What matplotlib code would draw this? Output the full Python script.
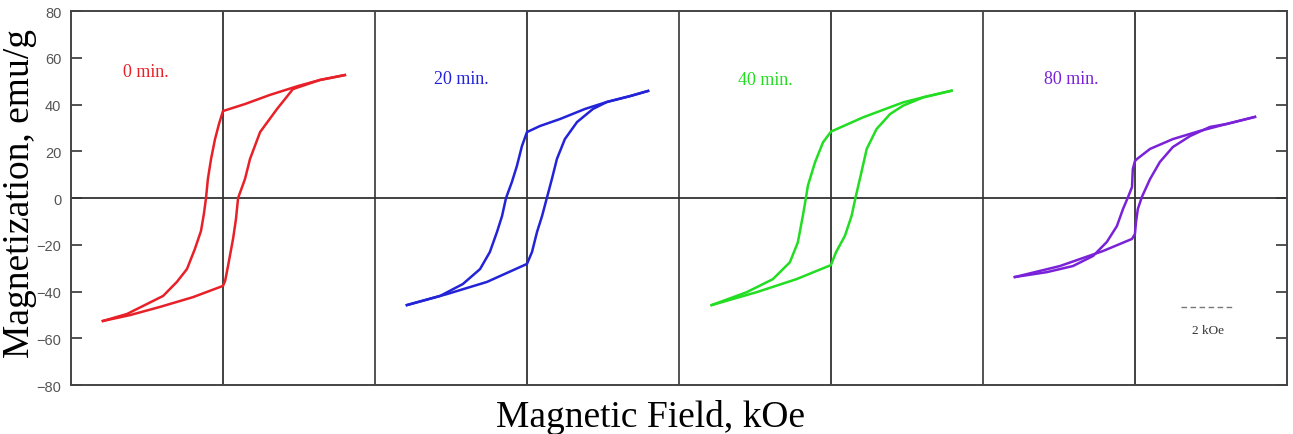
import matplotlib
matplotlib.use("Agg")
import matplotlib.pyplot as plt

# Loop data, field in kOe, magnetization in emu/g
labels = ["0 min.", "20 min.", "40 min.", "80 min."]
colors = ["#e82028", "#2323d8", "#22dd22", "#7a22d8"]

# descending branches (+H -> -H)
desc_H_0 = [4.60, 3.66, 2.83, 1.77, 0.83, 0.00, -0.15, -0.30, -0.45, -0.57, -0.64, -0.72, -0.83, -1.06, -1.36, -1.74, -2.26, -3.02, -3.62, -4.53]
desc_M_0 = [52.6, 50.5, 47.9, 44.1, 40.2, 37.2, 31.7, 25.2, 16.7, 8.1, 0.0, -6.8, -14.1, -21.8, -30.4, -35.9, -41.9, -46.2, -49.6, -52.6]
desc_H_20 = [4.57, 3.89, 3.02, 2.19, 1.25, 0.49, 0.00, -0.19, -0.38, -0.57, -0.79, -0.94, -1.13, -1.40, -1.77, -2.42, -3.28, -4.53]
desc_M_20 = [45.8, 43.6, 41.1, 38.1, 33.8, 30.8, 28.2, 22.2, 13.7, 6.8, 0.0, -7.7, -14.5, -23.1, -30.4, -36.8, -41.9, -45.8]
desc_H_40 = [4.55, 3.49, 2.72, 1.21, 0.00, -0.30, -0.60, -0.87, -0.94, -1.06, -1.25, -1.55, -2.19, -3.18, -4.50]
desc_M_40 = [45.9, 43.1, 40.9, 34.5, 28.4, 23.8, 15.3, 5.3, 0.3, -7.6, -19.0, -27.5, -34.7, -40.3, -45.8]
desc_H_80 = [4.53, 3.47, 2.45, 1.43, 0.57, 0.08, 0.00, -0.08, -0.11, -0.26, -0.45, -0.68, -1.06, -1.58, -2.34, -3.32, -4.53]
desc_M_80 = [34.7, 31.7, 28.7, 25.2, 21.0, 16.7, 15.8, 12.4, 4.7, 0.4, -4.7, -12.0, -18.8, -24.8, -29.1, -31.7, -33.8]

# ascending branches (-H -> +H)
asc_H_0 = [-4.53, -3.51, -2.38, -1.13, 0.00, 0.08, 0.19, 0.38, 0.49, 0.57, 0.83, 1.02, 1.40, 2.04, 2.64, 3.66, 4.60]
asc_M_0 = [-52.6, -50.1, -46.6, -42.4, -37.6, -35.5, -29.1, -17.5, -9.0, 0.0, 8.1, 16.7, 28.2, 38.1, 46.6, 50.5, 52.6]
asc_H_20 = [-4.53, -3.02, -1.51, 0.00, 0.19, 0.38, 0.57, 0.75, 0.94, 1.13, 1.43, 1.89, 2.49, 3.02, 3.89, 4.57]
asc_M_20 = [-45.8, -41.1, -35.9, -28.2, -23.1, -14.5, -7.7, 0.0, 8.1, 16.7, 25.2, 32.5, 38.1, 41.1, 43.6, 45.8]
asc_H_40 = [-4.50, -2.81, -1.30, 0.00, 0.19, 0.53, 0.78, 0.93, 1.09, 1.35, 1.72, 2.23, 2.72, 3.49, 4.55]
asc_M_40 = [-45.8, -40.3, -34.7, -28.7, -23.2, -16.1, -7.6, 0.3, 8.1, 21.0, 29.5, 35.9, 39.5, 43.1, 45.9]
asc_H_80 = [-4.53, -2.83, -1.21, -0.11, 0.00, 0.04, 0.11, 0.26, 0.57, 0.94, 1.43, 2.08, 2.83, 3.47, 4.53]
asc_M_80 = [-33.8, -29.1, -22.7, -17.5, -15.4, -10.3, -4.7, 0.4, 8.1, 15.4, 21.8, 26.5, 30.4, 31.7, 34.7]

loops = [
    (desc_H_0, desc_M_0, asc_H_0, asc_M_0),
    (desc_H_20, desc_M_20, asc_H_20, asc_M_20),
    (desc_H_40, desc_M_40, asc_H_40, asc_M_40),
    (desc_H_80, desc_M_80, asc_H_80, asc_M_80),
]

panel_w = 11.47  # kOe per panel
y_ticks = [-80, -60, -40, -20, 0, 20, 40, 60, 80]

fig = plt.figure(figsize=(12.93, 4.35), dpi=100)
ax = fig.add_axes([0.0549, 0.1126, 0.9404, 0.8598])
ax.set_xlim(0, 4 * panel_w)
ax.set_ylim(-80, 80)

axis_col = "#444444"
for s in ax.spines.values():
    s.set_color(axis_col)
    s.set_linewidth(1.4)

# panel separators, zero-field lines, zero line
for i in range(4):
    if i > 0:
        ax.axvline(i * panel_w, color=axis_col, lw=1.3)
    ax.axvline((i + 0.5) * panel_w, color="#333333", lw=1.3)
ax.axhline(0, color="#333333", lw=1.3)

for i, (dH, dM, aH, aM) in enumerate(loops):
    x0 = (i + 0.5) * panel_w
    ax.plot([x0 + h for h in dH], dM, color=colors[i], lw=1.8, solid_joinstyle="round")
    ax.plot([x0 + h for h in aH], aM, color=colors[i], lw=1.8, solid_joinstyle="round")

# sample labels
label_pos = [(-2.91, 54.0), (-2.46, 51), (-2.49, 50.5), (-2.42, 51)]
for i, (dx, y) in enumerate(label_pos):
    ax.text((i + 0.5) * panel_w + dx, y, labels[i], color=colors[i],
            fontsize=13, family="Liberation Serif", ha="center", va="center")

# 2 kOe scale bar
bar_start = 1.74
x0 = 3.5 * panel_w
ax.plot([x0 + bar_start, x0 + bar_start + 2], [-46.5, -46.5], color="#777777",
        lw=1.0, ls=(0, (4, 2.5)))
ax.text(x0 + bar_start + 1, -56.5, "2 kOe", color="#333333", fontsize=9.5,
        family="Liberation Serif", ha="center", va="center")

ax.set_yticks(y_ticks)
ax.set_xticks([])
ax.tick_params(axis="y", direction="in", length=8, width=1.3, color=axis_col,
               right=True, labelsize=10.5, labelcolor="#555555", pad=7)
for t in ax.get_yticklabels():
    t.set_family("Liberation Sans")

fig.text(0.0155, 0.555, "Magnetization, emu/g", rotation=90, ha="center", va="center",
         fontsize=27, family="Liberation Serif")
fig.text(0.503, 0.04, "Magnetic Field, kOe", ha="center", va="center",
         fontsize=27, family="Liberation Serif")

fig.savefig("out.png", dpi=100)
